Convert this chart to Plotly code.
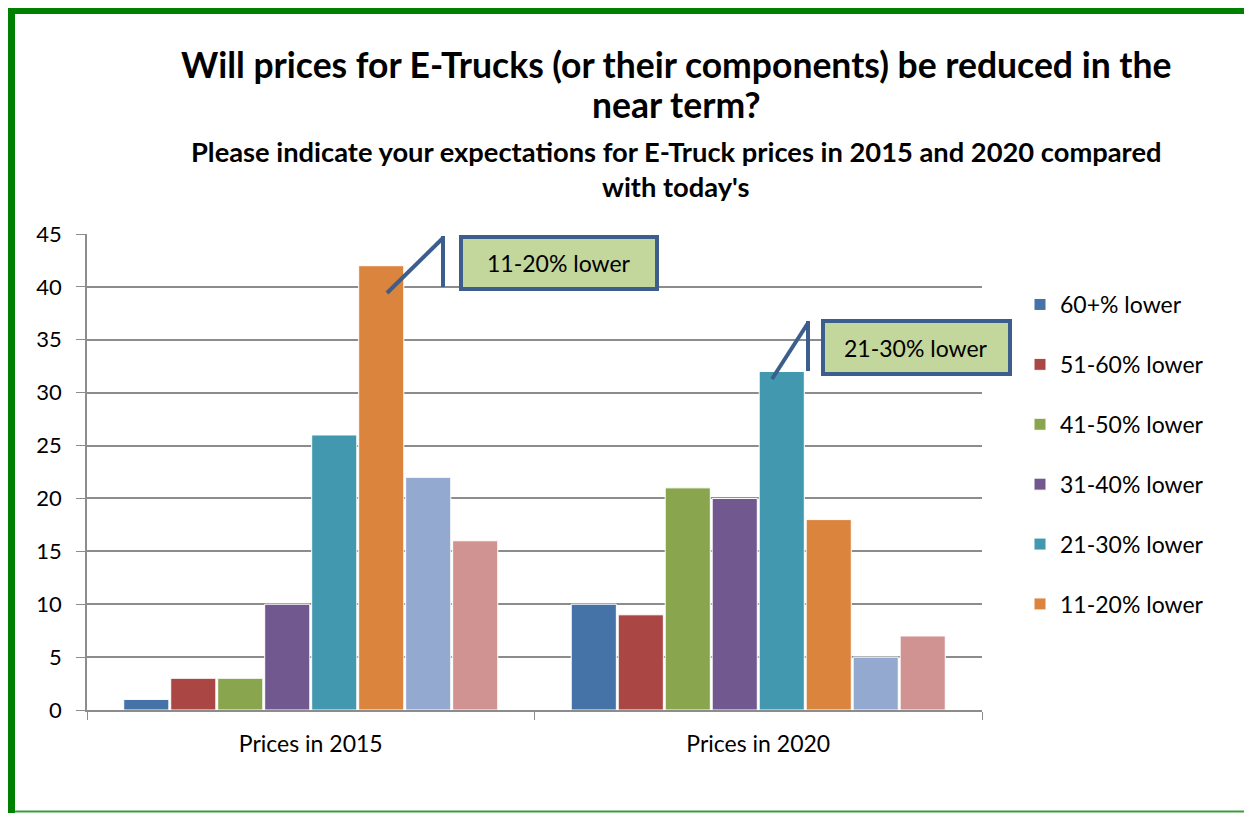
import plotly.graph_objects as go

categories = ["Prices in 2015", "Prices in 2020"]
series_names = ["60+% lower", "51-60% lower", "41-50% lower", "31-40% lower",
                "21-30% lower", "11-20% lower", "1-10% lower", "No change"]
values_2015 = [1, 3, 3, 10, 26, 42, 22, 16]
values_2020 = [10, 9, 21, 20, 32, 18, 5, 7]
colors = ["#4572A7", "#AA4643", "#89A54E", "#71588F",
          "#4198AF", "#DB843D", "#93A9CF", "#D19392"]
show_in_legend = [True, True, True, True, True, True, False, False]
y_ticks = [0, 5, 10, 15, 20, 25, 30, 35, 40, 45]

OFF = 8  # page body margin
W, H = 1252 - OFF, 813 - OFF
# plot area in screen pixels
SL, SR, ST, SB = 87, 982, 234, 710
L, R, T, B = SL - OFF, SR - OFF, ST - OFF, SB - OFF
FONT = "Lato, Open Sans, sans-serif"


def px(x):
    return (x - SL) / (SR - SL)


def py(y):
    return (SB - y) / (SB - ST)


fig = go.Figure()
for i, name in enumerate(series_names):
    fig.add_trace(go.Bar(
        x=categories,
        y=[values_2015[i], values_2020[i]],
        name=name,
        marker=dict(color=colors[i], line=dict(color="white", width=1)),
        showlegend=show_in_legend[i],
        legendgroup=f"g{i}",
    ))

shapes = []
# green frame
shapes.append(dict(type="rect", xref="paper", yref="paper",
                   x0=px(7), x1=px(15), y0=py(813), y1=py(6),
                   fillcolor="#008000", line=dict(width=0), layer="above"))
shapes.append(dict(type="rect", xref="paper", yref="paper",
                   x0=px(7), x1=px(1252), y0=py(14), y1=py(6),
                   fillcolor="#008000", line=dict(width=0), layer="above"))
shapes.append(dict(type="line", xref="paper", yref="paper",
                   x0=px(15), x1=px(1252), y0=py(811.5), y1=py(811.5),
                   line=dict(color="#3c9c3c", width=2), layer="above"))

callout_line = dict(color="#3B5E8C", width=4)
# callout 1
shapes.append(dict(type="line", xref="paper", yref="paper",
                   x0=px(387), y0=py(293), x1=px(443), y1=py(238),
                   line=callout_line, layer="above"))
shapes.append(dict(type="line", xref="paper", yref="paper",
                   x0=px(443), y0=py(236), x1=px(443), y1=py(287),
                   line=callout_line, layer="above"))
shapes.append(dict(type="rect", xref="paper", yref="paper",
                   x0=px(461), y0=py(289), x1=px(657), y1=py(237),
                   fillcolor="#C3D69B", line=callout_line, layer="above"))
# callout 2
shapes.append(dict(type="line", xref="paper", yref="paper",
                   x0=px(772), y0=py(379), x1=px(808), y1=py(323),
                   line=callout_line, layer="above"))
shapes.append(dict(type="line", xref="paper", yref="paper",
                   x0=px(808), y0=py(321), x1=px(808), y1=py(371),
                   line=callout_line, layer="above"))
shapes.append(dict(type="rect", xref="paper", yref="paper",
                   x0=px(823), y0=py(374), x1=px(1010), y1=py(321),
                   fillcolor="#C3D69B", line=callout_line, layer="above"))

annotations = [
    dict(text="<b>Will prices for E-Trucks (or their components) be reduced in the</b>",
         x=px(676), y=py(65), xref="paper", yref="paper", showarrow=False,
         font=dict(size=35.5, color="black", family=FONT), xanchor="center", yanchor="middle"),
    dict(text="<b>near term?</b>",
         x=px(676), y=py(104), xref="paper", yref="paper", showarrow=False,
         font=dict(size=35.5, color="black", family=FONT), xanchor="center", yanchor="middle"),
    dict(text="<b>Please indicate your expectations for E-Truck prices in 2015 and 2020 compared</b>",
         x=px(676), y=py(152), xref="paper", yref="paper", showarrow=False,
         font=dict(size=27.3, color="black", family=FONT), xanchor="center", yanchor="middle"),
    dict(text="<b>with today's</b>",
         x=px(676), y=py(187), xref="paper", yref="paper", showarrow=False,
         font=dict(size=27.3, color="black", family=FONT), xanchor="center", yanchor="middle"),
    dict(text="11-20% lower", x=px(559), y=py(263), xref="paper", yref="paper",
         showarrow=False, font=dict(size=23, color="black", family=FONT),
         xanchor="center", yanchor="middle"),
    dict(text="21-30% lower", x=px(916), y=py(348), xref="paper", yref="paper",
         showarrow=False, font=dict(size=23, color="black", family=FONT),
         xanchor="center", yanchor="middle"),
]

fig.update_layout(
    width=W, height=H,
    margin=dict(l=L, r=W - R, t=T, b=H - B, autoexpand=False),
    paper_bgcolor="white", plot_bgcolor="white",
    barmode="group", bargap=0.16, bargroupgap=0.04,
    font=dict(family=FONT, size=23, color="black"),
    showlegend=True,
    legend=dict(x=px(1020), y=py(283), xanchor="left", yanchor="top",
                font=dict(size=23, family=FONT, color="black"),
                tracegroupgap=27, bgcolor="rgba(0,0,0,0)",
                itemclick=False),
    shapes=shapes,
    annotations=annotations,
)
fig.update_yaxes(range=[0, 45], tickvals=y_ticks, showgrid=True,
                 gridcolor="#8c8c8c", gridwidth=1.5,
                 showline=True, linecolor="#8c8c8c", linewidth=1.5,
                 ticks="outside", ticklen=9, tickcolor="#8c8c8c",
                 ticklabelstandoff=10,
                 tickfont=dict(size=22, family=FONT), zeroline=False, fixedrange=True)
fig.update_xaxes(showline=True, linecolor="#8c8c8c", linewidth=2,
                 ticks="outside", ticklen=8, tickcolor="#8c8c8c",
                 tickson="boundaries", ticklabelstandoff=12,
                 tickfont=dict(size=23, family=FONT),
                 fixedrange=True)

fig.write_html("out.html")
